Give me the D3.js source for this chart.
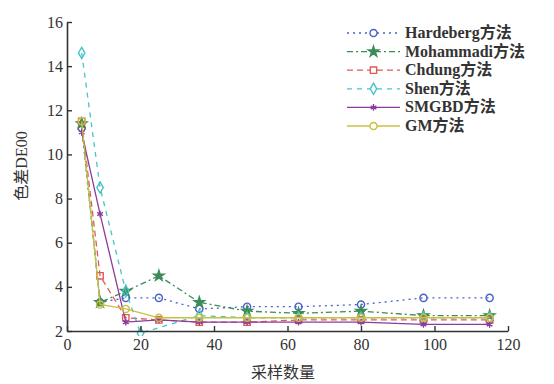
<!DOCTYPE html>
<html><head><meta charset="utf-8">
<script src="https://cdn.jsdelivr.net/npm/d3@7"></script>
<style>body{margin:0;background:#fff}svg{display:block}</style>
</head><body>
<svg id="c" width="554" height="384"></svg>
<script>
const xTicks = [0, 20, 40, 60, 80, 100, 120];
const yTicks = [2, 4, 6, 8, 10, 12, 14, 16];
const samples = [4, 9, 16, 25, 36, 49, 63, 80, 97, 115];
const shenSamples = [4, 9, 16, 20, 36, 49, 63, 80, 97, 115];
const seriesNames = ["Hardeberg方法", "Mohammadi方法", "Chdung方法", "Shen方法", "SMGBD方法", "GM方法"];
const hardeberg = [11.2, 3.3, 3.5, 3.5, 3.0, 3.1, 3.1, 3.2, 3.5, 3.5];
const mohammadi = [11.4, 3.3, 3.8, 4.5, 3.3, 2.9, 2.8, 2.9, 2.7, 2.7];
const chdung    = [11.5, 4.5, 2.6, 2.5, 2.4, 2.4, 2.5, 2.5, 2.5, 2.5];
const shen      = [14.6, 8.5, 3.8, 1.9, 2.7, 2.6, 2.6, 2.6, 2.6, 2.6];
const smgbd     = [11.0, 7.3, 2.4, 2.5, 2.4, 2.4, 2.4, 2.4, 2.3, 2.3];
const gm        = [11.5, 3.2, 3.0, 2.6, 2.6, 2.6, 2.6, 2.6, 2.6, 2.6];

const styles = [
  {color:"#4a62c8", dash:"2,4", sym:d3.symbolCircle, size:40, fill:false},
  {color:"#3c8c5a", dash:"6,3,2,3", sym:d3.symbolStar, size:34, fill:true},
  {color:"#e05a5a", dash:"6,4", sym:d3.symbolSquare, size:40, fill:false},
  {color:"#48c4c8", dash:"5,5", sym:d3.symbolDiamond, size:36, fill:false},
  {color:"#8a3c9c", dash:null, sym:d3.symbolAsterisk, size:30, fill:false},
  {color:"#c8c040", dash:null, sym:d3.symbolCircle, size:40, fill:false}
];
const xsOf = [samples, samples, samples, shenSamples, samples, samples];
const data = [hardeberg, mohammadi, chdung, shen, smgbd, gm];

const svg = d3.select("#c");
const x = d3.scaleLinear().domain([0,120]).range([67,508]);
const y = d3.scaleLinear().domain([2,16]).range([331,22]);
const font = "'Liberation Serif','Times New Roman',serif";

const plot = svg.append("g");
plot.append("clipPath").attr("id","clip").append("rect")
  .attr("x",60).attr("y",15).attr("width",460).attr("height",321);
const gp = plot.append("g").attr("clip-path","url(#clip)");

data.forEach((vals,i)=>{
  const st = styles[i];
  const pts = vals.map((v,j)=>[xsOf[i][j], v]);
  gp.append("path").datum(pts)
    .attr("fill","none").attr("stroke",st.color).attr("stroke-width",1.3)
    .attr("stroke-dasharray",st.dash)
    .attr("d", d3.line().x(d=>x(d[0])).y(d=>y(d[1])));
  gp.selectAll(null).data(pts).enter().append("path")
    .attr("transform",d=>`translate(${x(d[0])},${y(d[1])})`)
    .attr("d", d3.symbol().type(st.sym).size(st.size))
    .attr("fill", st.fill ? st.color : "none")
    .attr("stroke", st.color).attr("stroke-width",1.4);
});

const xAxis = svg.append("g").attr("transform","translate(0,331)")
  .call(d3.axisBottom(x).tickValues(xTicks).tickSizeInner(-5).tickSizeOuter(0).tickPadding(8));
const yAxis = svg.append("g").attr("transform","translate(67,0)")
  .call(d3.axisLeft(y).tickValues(yTicks).tickSizeInner(-5).tickSizeOuter(0).tickPadding(4));
[xAxis,yAxis].forEach(a=>{
  a.attr("font-family",null).attr("font-size",null);
  a.select(".domain").attr("stroke","#333").attr("stroke-width",1.6);
  a.selectAll(".tick line").attr("stroke","#333").attr("stroke-width",1.4);
  a.selectAll("text").style("font-family",font).style("font-size","16px").attr("fill","#333");
});

svg.append("text").attr("x",283).attr("y",378).attr("text-anchor","middle")
  .style("font-family","'Noto Sans CJK SC',serif").style("font-size","16px").attr("fill","#333")
  .text("采样数量");
svg.append("text").attr("transform","translate(27,166) rotate(-90)").attr("text-anchor","middle")
  .style("font-family","'Liberation Serif','Noto Sans CJK SC',serif").style("font-size","16px").attr("fill","#333")
  .text("色差DE00");

const leg = svg.append("g");
seriesNames.forEach((name,i)=>{
  const st = styles[i];
  const yy = 33 + i*18.6;
  leg.append("line").attr("x1",347).attr("x2",400).attr("y1",yy).attr("y2",yy)
    .attr("stroke",st.color).attr("stroke-width",1.3).attr("stroke-dasharray",st.dash);
  leg.append("path").attr("transform",`translate(373.5,${yy})`)
    .attr("d", d3.symbol().type(st.sym).size(st.size))
    .attr("fill", st.fill ? st.color : "#fff")
    .attr("stroke", st.color).attr("stroke-width",1.4);
  leg.append("text").attr("x",405).attr("y",yy+5)
    .style("font-family","'Liberation Serif','Noto Sans CJK SC',serif").style("font-size","16px").style("font-weight","bold").attr("fill","#333")
    .text(name);
});
</script>
</body></html>
